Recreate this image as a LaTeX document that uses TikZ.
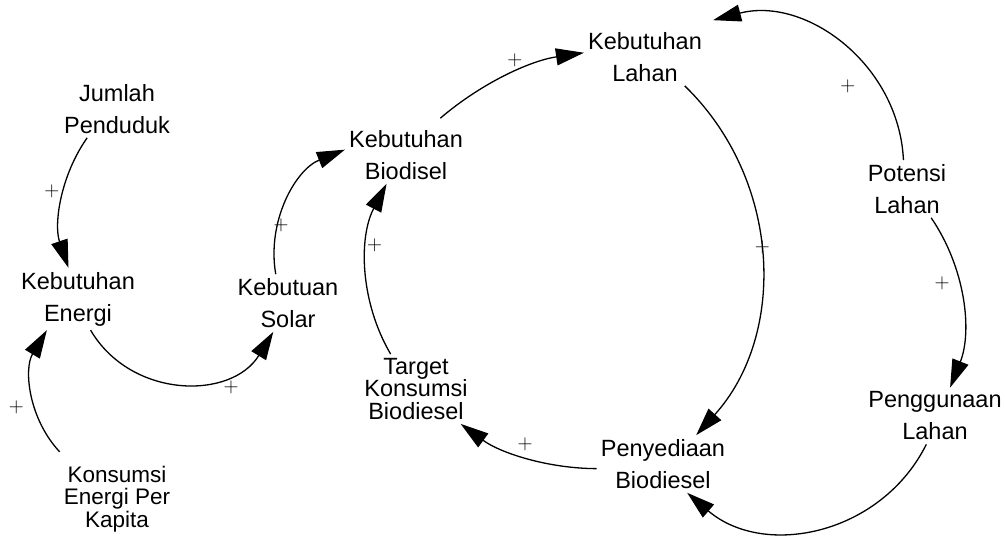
\documentclass[tikz,border=0pt]{standalone}
\usepackage{fontspec}
\setmainfont{Liberation Sans}
\usetikzlibrary{arrows.meta}

\begin{document}
\begin{tikzpicture}[x=1pt,y=1pt,
    var/.style={align=center,inner sep=4pt,font=\fontsize{23.5}{32}\selectfont},
    link/.style={line width=1.3pt,-{Triangle[length=28pt,width=17pt]}},
    sign/.style={inner sep=0pt,font=\fontsize{21}{21}\selectfont}]

    \useasboundingbox (0,0) rectangle (1005,-542);

    \node[var] (jumlah) at (117,-109) {Jumlah\\Penduduk};
    \node[var] (energi) at (78,-299) {Kebutuhan\\Energi};
    \node[var,font=\fontsize{22.5}{22.5}\selectfont] (konsumsi) at (117,-499) {Konsumsi\\Energi Per\\Kapita};
    \node[var] (solar) at (288,-303) {Kebutuan\\Solar};
    \node[var] (biodisel) at (406,-155) {Kebutuhan\\Biodisel};
    \node[var] (lahan) at (645,-57) {Kebutuhan\\Lahan};
    \node[var] (potensi) at (907,-189) {Potensi\\Lahan};
    \node[var] (guna) at (935,-416) {Penggunaan\\Lahan};
    \node[var] (sedia) at (663,-464) {Penyediaan\\Biodiesel};
    \node[var,font=\fontsize{23.5}{22.5}\selectfont] (target) at (416,-389) {Target\\Konsumsi\\Biodiesel};

    % energy side
    \draw[link] (jumlah.224) to[bend right=27,looseness=.9]
        node[sign,pos=.43,xshift=-12pt] {$+$} (energi.107);
    \draw[link] ([yshift=10pt]konsumsi.north west) to[bend left=37,looseness=.95]
        node[sign,pos=.39,xshift=-19pt] {$+$} (energi.225);
    \draw[link] (energi.-68) to[bend right=59,looseness=1.12]
        node[sign,pos=.72,xshift=4pt,yshift=-14pt] {$+$} (solar.243);
    \draw[link] (solar.113) to[bend left=39,looseness=.96]
        node[sign,pos=.32,xshift=3pt] {$+$} (biodisel.175);

    % land loop
    \draw[link] ([yshift=8pt]biodisel.40) to[bend left=16,looseness=.88]
        node[sign,pos=.55,yshift=12pt] {$+$} (lahan.176);
    \draw[link] (potensi.97) to[bend right=51,looseness=1.04]
        node[sign,pos=.3,xshift=-30pt,yshift=-3pt] {$+$} ([xshift=7pt,yshift=8pt]lahan.north east);
    \draw[link] (lahan.-36) to[bend left=44,looseness=.99]
        node[sign,pos=.47,xshift=2pt] {$+$} (sedia.41);
    \draw[link] (potensi.-50) to[bend left=28,looseness=.91]
        node[sign,pos=.4,xshift=-17pt] {$+$} (guna.62);
    \draw[link] (guna.253) to[bend left=52,looseness=1.06] (sedia.-50);
    \draw[link] (sedia.184) to[bend left=18,looseness=.88]
        node[sign,pos=.5,yshift=13pt] {$+$} (target.-38);
    \draw[link] (target.126) to[bend left=29,looseness=.91]
        node[sign,pos=.64,xshift=7pt] {$+$} (biodisel.236);
\end{tikzpicture}
\end{document}
